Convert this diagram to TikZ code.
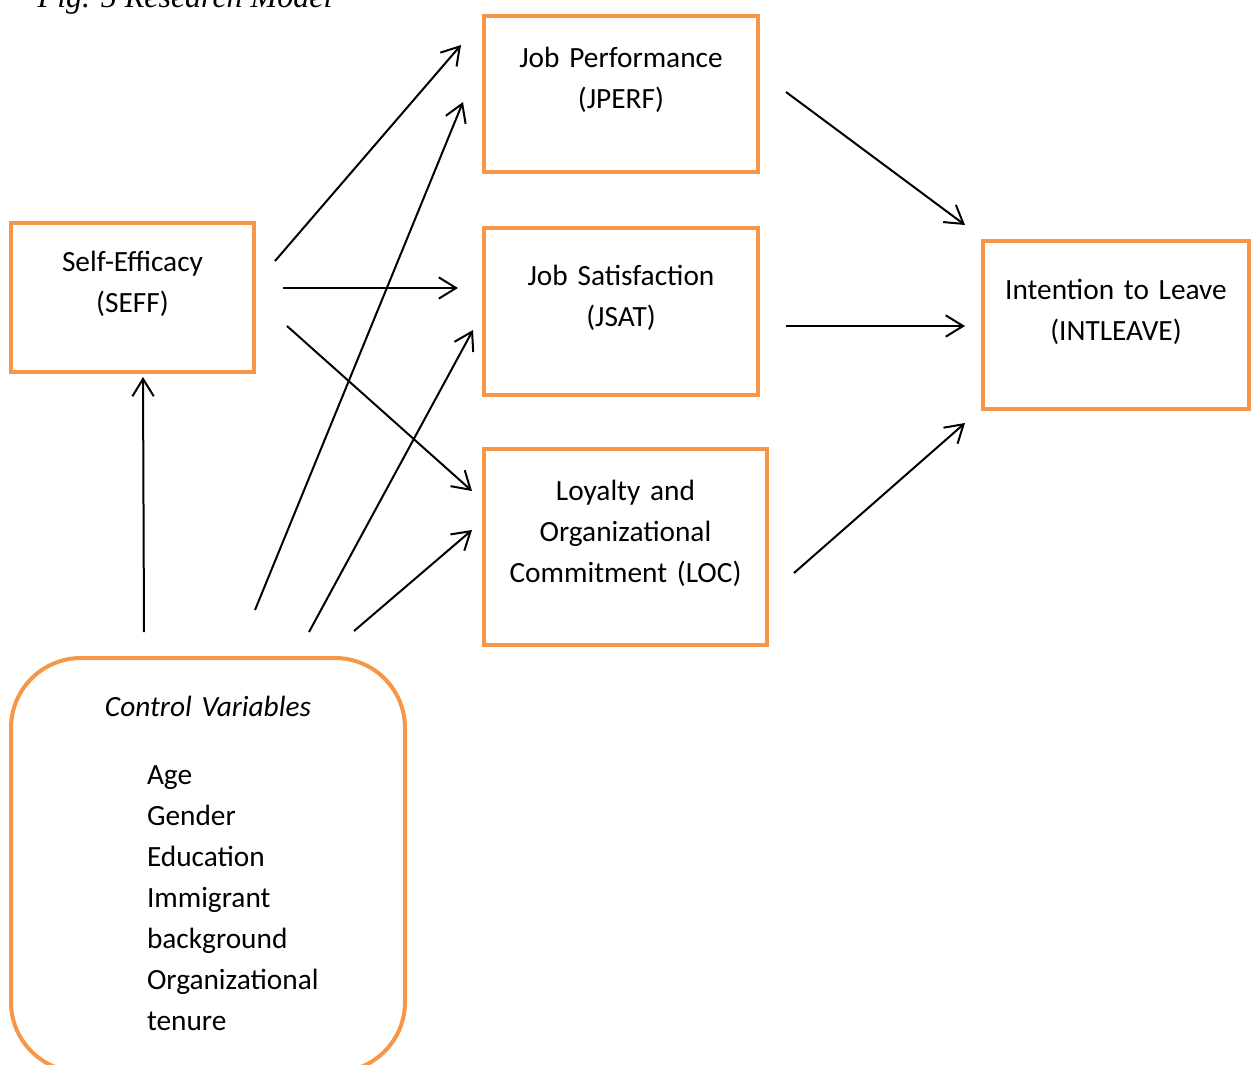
\documentclass[tikz,border=0pt]{standalone}
\usepackage{fontspec}
\setmainfont{Carlito}
\newfontfamily\capfont{Liberation Serif}
\usetikzlibrary{arrows.meta}
\definecolor{boxc}{HTML}{F79646}

\begin{document}
\begin{tikzpicture}[x=0.75pt, y=-0.75pt, font=\fontsize{22}{30.75}\selectfont,
      varbox/.style={draw=boxc, line width=3pt, align=center, text width=176pt, inner sep=0pt, text height=16pt, text depth=#1},
      ctrlbox/.style={draw=boxc, line width=3pt, rounded corners=52.5pt, align=left, text width=240pt, inner sep=0pt, text height=16pt, text depth=#1},
      arr/.style={-{Straight Barb[length=13pt, width=16pt]}, line width=1.5pt}]
    \useasboundingbox (0,0) rectangle (1253,1064);
    \node[anchor=base west, font=\capfont\itshape\fontsize{24}{28}\selectfont] (cap) at (33,7) {Fig. 5 Research Model};
    \node[varbox=56.5pt, minimum width=205.5pt, minimum height=117pt] (perf) at (621,94) {Job Performance\\(JPERF)};
    \node[varbox=55.75pt, minimum width=205.5pt, minimum height=125.25pt] (sat) at (621,311.5) {Job Satisfaction\\(JSAT)};
    \node[varbox=86.5pt, minimum width=212.25pt, minimum height=147pt] (loc) at (625.5,547) {Loyalty and\\Organizational\\Commitment (LOC)};
    \node[varbox=55.75pt, minimum width=182.25pt, minimum height=111.75pt] (seff) at (132.5,297.5) {Self-Efficacy\\(SEFF)};
    \node[varbox=55pt, minimum width=199.5pt, minimum height=126pt] (leave) at (1116,325) {Intention to Leave\\(INTLEAVE)};
    \node[ctrlbox=239.5pt, minimum width=295.5pt, minimum height=310.5pt] (ctrl) at (208,865) {\makebox[\linewidth]{\itshape Control Variables}\\[20.25pt]
      \hspace*{74.25pt}Age\\ \hspace*{74.25pt}Gender\\ \hspace*{74.25pt}Education\\ \hspace*{74.25pt}Immigrant\\
      \hspace*{74.25pt}background\\ \hspace*{74.25pt}Organizational\\ \hspace*{74.25pt}tenure};
    \coordinate (seff-perf) at (275,261);  \coordinate (perf-seff) at (461,45);
    \coordinate (ctrl-perf) at (255,610);  \coordinate (perf-ctrl) at (463,102);
    \coordinate (seff-sat) at (283,288);   \coordinate (sat-seff) at (458,288);
    \coordinate (ctrl-sat) at (309,632);   \coordinate (sat-ctrl) at (473,330);
    \coordinate (seff-loc) at (287,326);   \coordinate (loc-seff) at (472,491);
    \coordinate (ctrl-loc) at (354,631);   \coordinate (loc-ctrl) at (472,530);
    \coordinate (ctrl-seff) at (144,632);  \coordinate (seff-ctrl) at (143,377);
    \coordinate (perf-leave) at (786,92);  \coordinate (leave-perf) at (965,225);
    \coordinate (sat-leave) at (786,326);  \coordinate (leave-sat) at (965,326);
    \coordinate (loc-leave) at (794,573);  \coordinate (leave-loc) at (965,423);
    \draw[arr] (seff-perf) -- (perf-seff);
    \draw[arr] (ctrl-perf) -- (perf-ctrl);
    \draw[arr] (seff-sat) -- (sat-seff);
    \draw[arr] (ctrl-sat) -- (sat-ctrl);
    \draw[arr] (seff-loc) -- (loc-seff);
    \draw[arr] (ctrl-loc) -- (loc-ctrl);
    \draw[arr] (ctrl-seff) -- (seff-ctrl);
    \draw[arr] (perf-leave) -- (leave-perf);
    \draw[arr] (sat-leave) -- (leave-sat);
    \draw[arr] (loc-leave) -- (leave-loc);
\end{tikzpicture}
\end{document}
